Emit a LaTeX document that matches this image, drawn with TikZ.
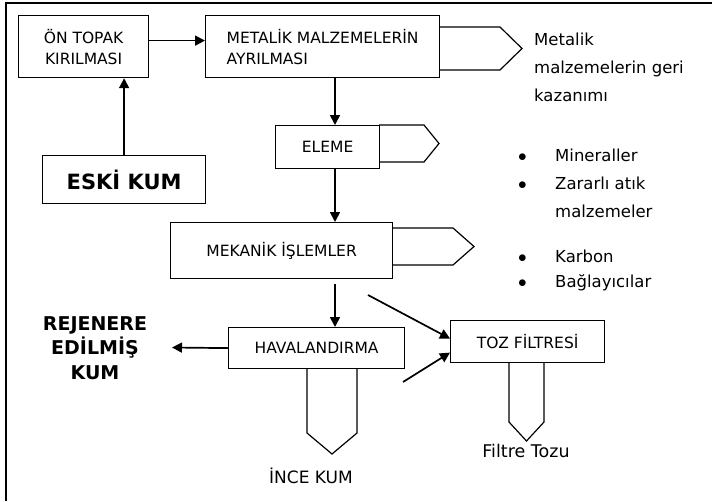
\documentclass[tikz,border=0pt]{standalone}
\usepackage{fontspec}
\setmainfont{DejaVu Sans}
\usetikzlibrary{arrows.meta,calc}

\newcommand*\boxfont{\fontsize{15.5}{21}\selectfont}
\newcommand*\sidefont{\fontsize{16.5}{28}\selectfont}
\newcommand*\listdot{\makebox[9pt][l]{$\bullet$}}
\tikzset{stage/.style 2 args={
    draw,
    line width=1.2pt,
    rectangle,
    anchor=north west,
    inner sep=0pt,
    minimum width=#1,
    minimum height=#2,
    align=center,
    font=\boxfont
}}
\tikzset{
    flow/.style={line width=1.7pt, -{Triangle[length=10pt,width=10pt]}},
    outlet/.style={line width=1.2pt, line join=miter},
    sidenote/.style={anchor=west, align=left, inner sep=0pt, font=\sidefont}
}

\begin{document}
\begin{tikzpicture}[x=1pt,y=-1pt]
    \useasboundingbox (0,0) rectangle (712,501);

    % Frame, only the top and left edges show.
    \draw[line width=1.5pt] (6,501) -- (6,3) -- (712,3);

    % Process boxes, placed by their upper left corner.
    \node[stage={130pt}{62pt}] (ontopak) at (18,15) {ÖN TOPAK\\KIRILMASI};
    \node[stage={234pt}{62pt}, align=left] (metal) at (205,15) {METALİK MALZEMELERİN\\AYRILMASI};
    \node[stage={163pt}{48pt}, font=\bfseries\fontsize{21}{24}\selectfont] (eski) at (42,155) {ESKİ KUM};
    \node[stage={104pt}{43pt}] (eleme) at (275,125) {ELEME};
    \node[stage={222pt}{56pt}] (mekanik) at (170,222) {MEKANİK İŞLEMLER};
    \node[stage={176pt}{41pt}] (hava) at (228,327) {HAVALANDIRMA};
    \node[stage={154pt}{42pt}] (toz) at (450,320) {TOZ FİLTRESİ};

    % Output tabs on the boxes.
    \draw[outlet] (439,27) -- (500,27) -- (522,48.5) -- (500,70) -- (439,70);
    \draw[outlet] (379,125) -- (424,125) -- (439,143.5) -- (424,162) -- (379,162);
    \draw[outlet] (392,228) -- (453,228) -- (474,246.5) -- (453,265) -- (392,265);
    \draw[outlet] (307,368) -- (307,433) -- (332,454) -- (357,433) -- (357,368);
    \draw[outlet] (509,362) -- (509,422) -- (526.5,441) -- (544,422) -- (544,362);

    % Main line of the process.
    \coordinate (spine) at (335,0);
    \draw[flow] (eski.north) -- (eski.north |- ontopak.south);
    \draw[flow] ([yshift=6pt]ontopak.east) -- ([yshift=6pt]metal.west);
    \draw[flow] (spine |- metal.south) -- (spine |- eleme.north);
    \draw[flow] (spine |- eleme.south) -- (spine |- mekanik.north);
    \draw[flow] ($(spine |- mekanik.south)+(0,5)$) -- (spine |- hava.north);

    % Sand out, dust to the filter.
    \coordinate (regtip) at (172,347.5);
    \coordinate (dusta) at (368,295);
    \coordinate (dustb) at (403,382);
    \draw[flow] (hava.west) -- (regtip);
    \draw[flow] (dusta) -- ([yshift=3pt]toz.west);
    \draw[flow] (dustb) -- ([yshift=-11pt]toz.west);

    % Texts.
    \node[font=\bfseries\fontsize{19}{24.5}\selectfont, align=center] (regen) at (95,348) {REJENERE\\EDİLMİŞ\\KUM};
    \node[font=\fontsize{17}{20}\selectfont] (fine) at (311,476) {İNCE KUM};
    \node[font=\fontsize{17.5}{20}\selectfont] (dust) at (526,451) {Filtre Tozu};
    \node[sidenote] (metalnote) at (534,67) {Metalik\\malzemelerin geri\\kazanımı};
    \node[sidenote] (minerals) at (518,184) {\begin{tabular}{@{}l@{\hspace{28pt}}l@{}}\listdot&Mineraller\\\listdot&Zararlı atık\\&malzemeler\end{tabular}};
    \node[sidenote, font=\fontsize{16.5}{25}\selectfont] (carbon) at (518,270) {\begin{tabular}{@{}l@{\hspace{28pt}}l@{}}\listdot&Karbon\\\listdot&Bağlayıcılar\end{tabular}};

\end{tikzpicture}
\end{document}
